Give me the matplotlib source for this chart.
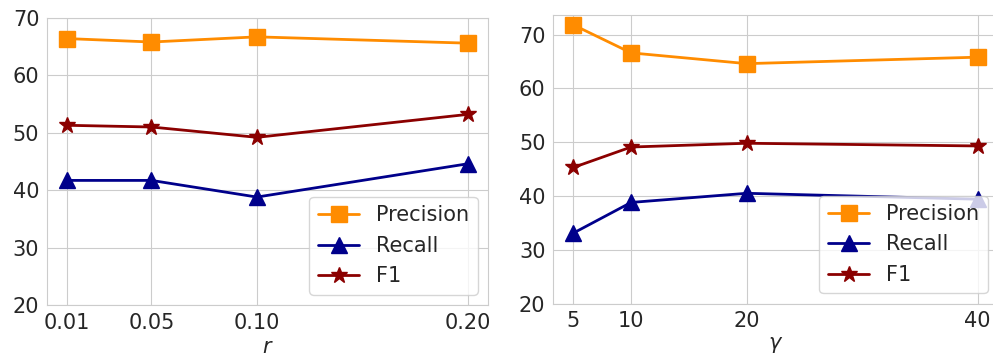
import matplotlib
matplotlib.use("Agg")
import matplotlib.pyplot as plt
import seaborn as sns

sns.set_style("whitegrid")
plt.rcParams["font.family"] = ["DejaVu Sans"]

# sensitivity to r
r_values = [0.01, 0.05, 0.10, 0.20]
r_ticklabels = ["0.01", "0.05", "0.10", "0.20"]
r_precision = [66.4, 65.8, 66.7, 65.6]
r_recall = [41.7, 41.7, 38.8, 44.6]
r_f1 = [51.3, 51.0, 49.2, 53.2]

# sensitivity to gamma
g_values = [5, 10, 20, 40]
g_ticklabels = ["5", "10", "20", "40"]
g_precision = [71.8, 66.6, 64.6, 65.8]
g_recall = [33.1, 38.8, 40.5, 39.4]
g_f1 = [45.3, 49.1, 49.8, 49.3]

styles = [
    ("Precision", "s", "darkorange", 11),
    ("Recall", "^", "darkblue", 12),
    ("F1", "*", "darkred", 12),
]

fig = plt.figure(figsize=(9.93, 3.58), dpi=100)
ax1 = fig.add_axes([0.0473, 0.148, 0.4441, 0.802])
ax2 = fig.add_axes([0.557, 0.152, 0.448, 0.807])


def draw(ax, x, series, ticklabels, xlabel, ylim):
    for (label, marker, color, ms), y in zip(styles, series):
        ax.plot(x, y, marker=marker, color=color, markersize=ms,
                linewidth=2, label=label)
    ax.set_xticks(x)
    ax.set_xticklabels(ticklabels)
    ax.set_ylim(*ylim)
    ax.set_yticks([20, 30, 40, 50, 60, 70])
    ax.tick_params(labelsize=15, pad=2)
    ax.set_xlabel(xlabel, fontsize=15, labelpad=3)
    ax.legend(loc="lower right", fontsize=15, handlelength=2.0,
              borderaxespad=0.5)


draw(ax1, r_values, [r_precision, r_recall, r_f1], r_ticklabels, "$r$", (20, 70))
draw(ax2, g_values, [g_precision, g_recall, g_f1], g_ticklabels, r"$\gamma$", (20, 73.7))

fig.savefig("out.png", dpi=100)
